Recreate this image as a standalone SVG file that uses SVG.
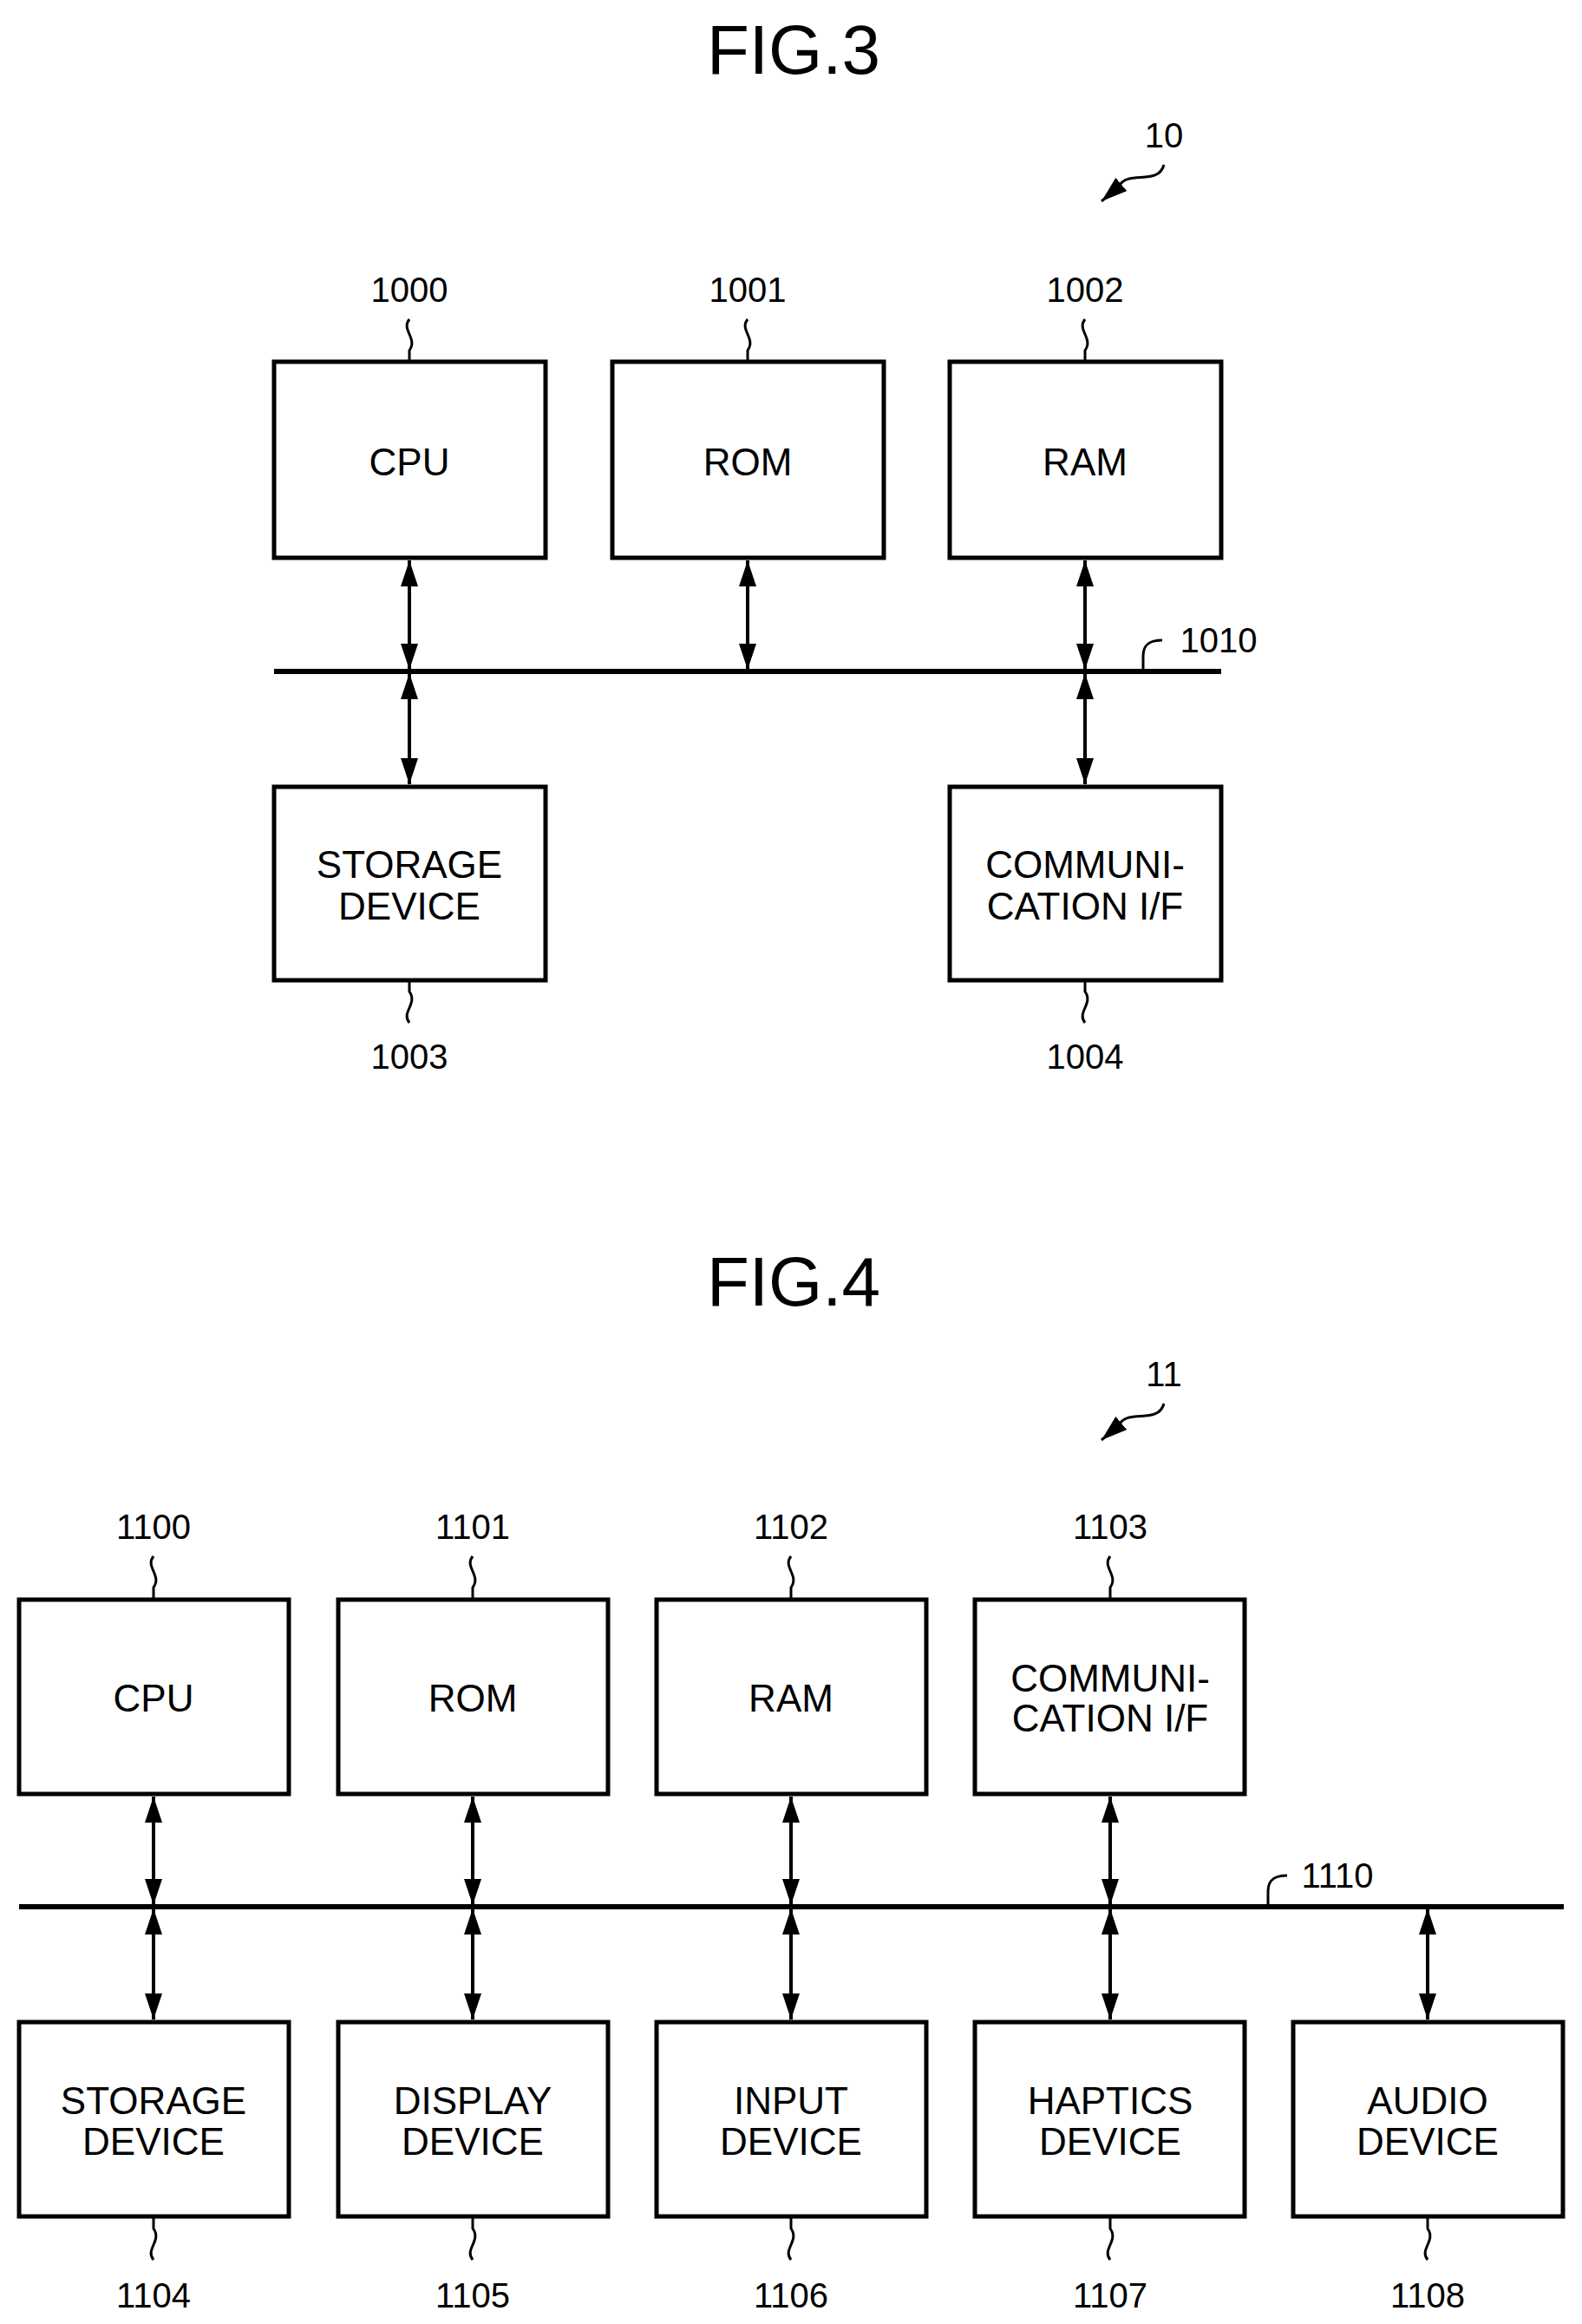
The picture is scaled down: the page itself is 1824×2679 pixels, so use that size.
<svg xmlns="http://www.w3.org/2000/svg" width="1824" height="2679" viewBox="0 0 1824 2679">
<style>
.box{fill:#fff;stroke:#000;stroke-width:5}
.t{font-family:"Liberation Sans",Arial,sans-serif;font-size:44px;text-anchor:middle;fill:#000}
.lbl{font-family:"Liberation Sans",Arial,sans-serif;font-size:40px;text-anchor:middle;fill:#000}
.title{font-family:"Liberation Sans",Arial,sans-serif;font-size:80px;text-anchor:middle;fill:#000}
.bus{stroke:#000;stroke-width:6}
.arr{stroke:#000;stroke-width:4;fill:none;marker-start:url(#ah);marker-end:url(#ah)}
.lead{stroke:#000;stroke-width:3;fill:none}
</style>
<defs>
<marker id="ah" viewBox="0 0 10 10" refX="10" refY="5" markerWidth="5" markerHeight="7" markerUnits="userSpaceOnUse" orient="auto-start-reverse" style="overflow:visible">
<path d="M0,0 L10,5 L0,10 z" fill="#000" transform="scale(1)"/>
</marker>
<marker id="ah2" viewBox="0 0 30 20" refX="30" refY="10" markerWidth="30" markerHeight="20" markerUnits="userSpaceOnUse" orient="auto-start-reverse">
<path d="M0,0 L30,10 L0,20 z" fill="#000"/>
</marker>
</defs>
<style>.arr{marker-start:url(#ah2);marker-end:url(#ah2)}</style>

<text class="title" x="915" y="85">FIG.3</text>
<text class="lbl" x="1342" y="170">10</text>
<path class="lead" d="M1342,190 C1335,215 1300,195 1290,215 L1270,232" marker-end="url(#ah2)"/>

<g id="cpu3"><rect class="box" x="316" y="417" width="313" height="226"/><text class="t" x="472" y="548">CPU</text><text class="lbl" x="472" y="348">1000</text><path class="lead" d="M472,368 c-10,12 10,22 0,36 v13"/></g>
<g id="rom3"><rect class="box" x="706" y="417" width="313" height="226"/><text class="t" x="862" y="548">ROM</text><text class="lbl" x="862" y="348">1001</text><path class="lead" d="M862,368 c-10,12 10,22 0,36 v13"/></g>
<g id="ram3"><rect class="box" x="1095" y="417" width="313" height="226"/><text class="t" x="1251" y="548">RAM</text><text class="lbl" x="1251" y="348">1002</text><path class="lead" d="M1251,368 c-10,12 10,22 0,36 v13"/></g>
<g id="sto3"><rect class="box" x="316" y="907" width="313" height="223"/><text class="t" x="472" y="1012">STORAGE</text><text class="t" x="472" y="1060">DEVICE</text><text class="lbl" x="472" y="1232">1003</text><path class="lead" d="M472,1130 v13 c10,14 -10,24 0,36"/></g>
<g id="com3"><rect class="box" x="1095" y="907" width="313" height="223"/><text class="t" x="1251" y="1012">COMMUNI-</text><text class="t" x="1251" y="1060">CATION I/F</text><text class="lbl" x="1251" y="1232">1004</text><path class="lead" d="M1251,1130 v13 c10,14 -10,24 0,36"/></g>
<g id="bus3"><line class="bus" x1="316" y1="774" x2="1408" y2="774"/><text class="lbl" x="1405" y="752">1010</text><path class="lead" d="M1318,774 v-18 c0,-16 12,-18 22,-18"/></g>

<g id="connectors3">
<line class="arr" x1="472" y1="646" x2="472" y2="772"/>
<line class="arr" x1="862" y1="646" x2="862" y2="772"/>
<line class="arr" x1="1251" y1="646" x2="1251" y2="772"/>
<line class="arr" x1="472" y1="776" x2="472" y2="904"/>
<line class="arr" x1="1251" y1="776" x2="1251" y2="904"/>
</g>

<text class="title" x="915" y="1505">FIG.4</text>
<text class="lbl" x="1342" y="1598">11</text>
<path class="lead" d="M1342,1618 C1335,1643 1300,1623 1290,1643 L1270,1660" marker-end="url(#ah2)"/>

<g id="cpu4"><rect class="box" x="22" y="1844" width="311" height="224"/><text class="t" x="177" y="1973">CPU</text><text class="lbl" x="177" y="1774">1100</text><path class="lead" d="M177,1794 c-10,12 10,22 0,36 v14"/></g>
<g id="rom4"><rect class="box" x="390" y="1844" width="311" height="224"/><text class="t" x="545" y="1973">ROM</text><text class="lbl" x="545" y="1774">1101</text><path class="lead" d="M545,1794 c-10,12 10,22 0,36 v14"/></g>
<g id="ram4"><rect class="box" x="757" y="1844" width="311" height="224"/><text class="t" x="912" y="1973">RAM</text><text class="lbl" x="912" y="1774">1102</text><path class="lead" d="M912,1794 c-10,12 10,22 0,36 v14"/></g>
<g id="com4"><rect class="box" x="1124" y="1844" width="311" height="224"/><text class="t" x="1280" y="1950">COMMUNI-</text><text class="t" x="1280" y="1996">CATION I/F</text><text class="lbl" x="1280" y="1774">1103</text><path class="lead" d="M1280,1794 c-10,12 10,22 0,36 v14"/></g>

<g id="sto4"><rect class="box" x="22" y="2331" width="311" height="224"/><text class="t" x="177" y="2437">STORAGE</text><text class="t" x="177" y="2484">DEVICE</text><text class="lbl" x="177" y="2660">1104</text><path class="lead" d="M177,2555 v14 c10,14 -10,24 0,36"/></g>
<g id="dis4"><rect class="box" x="390" y="2331" width="311" height="224"/><text class="t" x="545" y="2437">DISPLAY</text><text class="t" x="545" y="2484">DEVICE</text><text class="lbl" x="545" y="2660">1105</text><path class="lead" d="M545,2555 v14 c10,14 -10,24 0,36"/></g>
<g id="inp4"><rect class="box" x="757" y="2331" width="311" height="224"/><text class="t" x="912" y="2437">INPUT</text><text class="t" x="912" y="2484">DEVICE</text><text class="lbl" x="912" y="2660">1106</text><path class="lead" d="M912,2555 v14 c10,14 -10,24 0,36"/></g>
<g id="hap4"><rect class="box" x="1124" y="2331" width="311" height="224"/><text class="t" x="1280" y="2437">HAPTICS</text><text class="t" x="1280" y="2484">DEVICE</text><text class="lbl" x="1280" y="2660">1107</text><path class="lead" d="M1280,2555 v14 c10,14 -10,24 0,36"/></g>
<g id="aud4"><rect class="box" x="1491" y="2331" width="311" height="224"/><text class="t" x="1646" y="2437">AUDIO</text><text class="t" x="1646" y="2484">DEVICE</text><text class="lbl" x="1646" y="2660">1108</text><path class="lead" d="M1646,2555 v14 c10,14 -10,24 0,36"/></g>

<g id="bus4"><line class="bus" x1="22" y1="2198" x2="1803" y2="2198"/><text class="lbl" x="1542" y="2176">1110</text><path class="lead" d="M1462,2198 v-18 c0,-16 12,-18 22,-18"/></g>

<g id="connectors4">
<line class="arr" x1="177" y1="2071" x2="177" y2="2196"/>
<line class="arr" x1="545" y1="2071" x2="545" y2="2196"/>
<line class="arr" x1="912" y1="2071" x2="912" y2="2196"/>
<line class="arr" x1="1280" y1="2071" x2="1280" y2="2196"/>
<line class="arr" x1="177" y1="2200" x2="177" y2="2328"/>
<line class="arr" x1="545" y1="2200" x2="545" y2="2328"/>
<line class="arr" x1="912" y1="2200" x2="912" y2="2328"/>
<line class="arr" x1="1280" y1="2200" x2="1280" y2="2328"/>
<line class="arr" x1="1646" y1="2200" x2="1646" y2="2328"/>
</g>
</svg>
